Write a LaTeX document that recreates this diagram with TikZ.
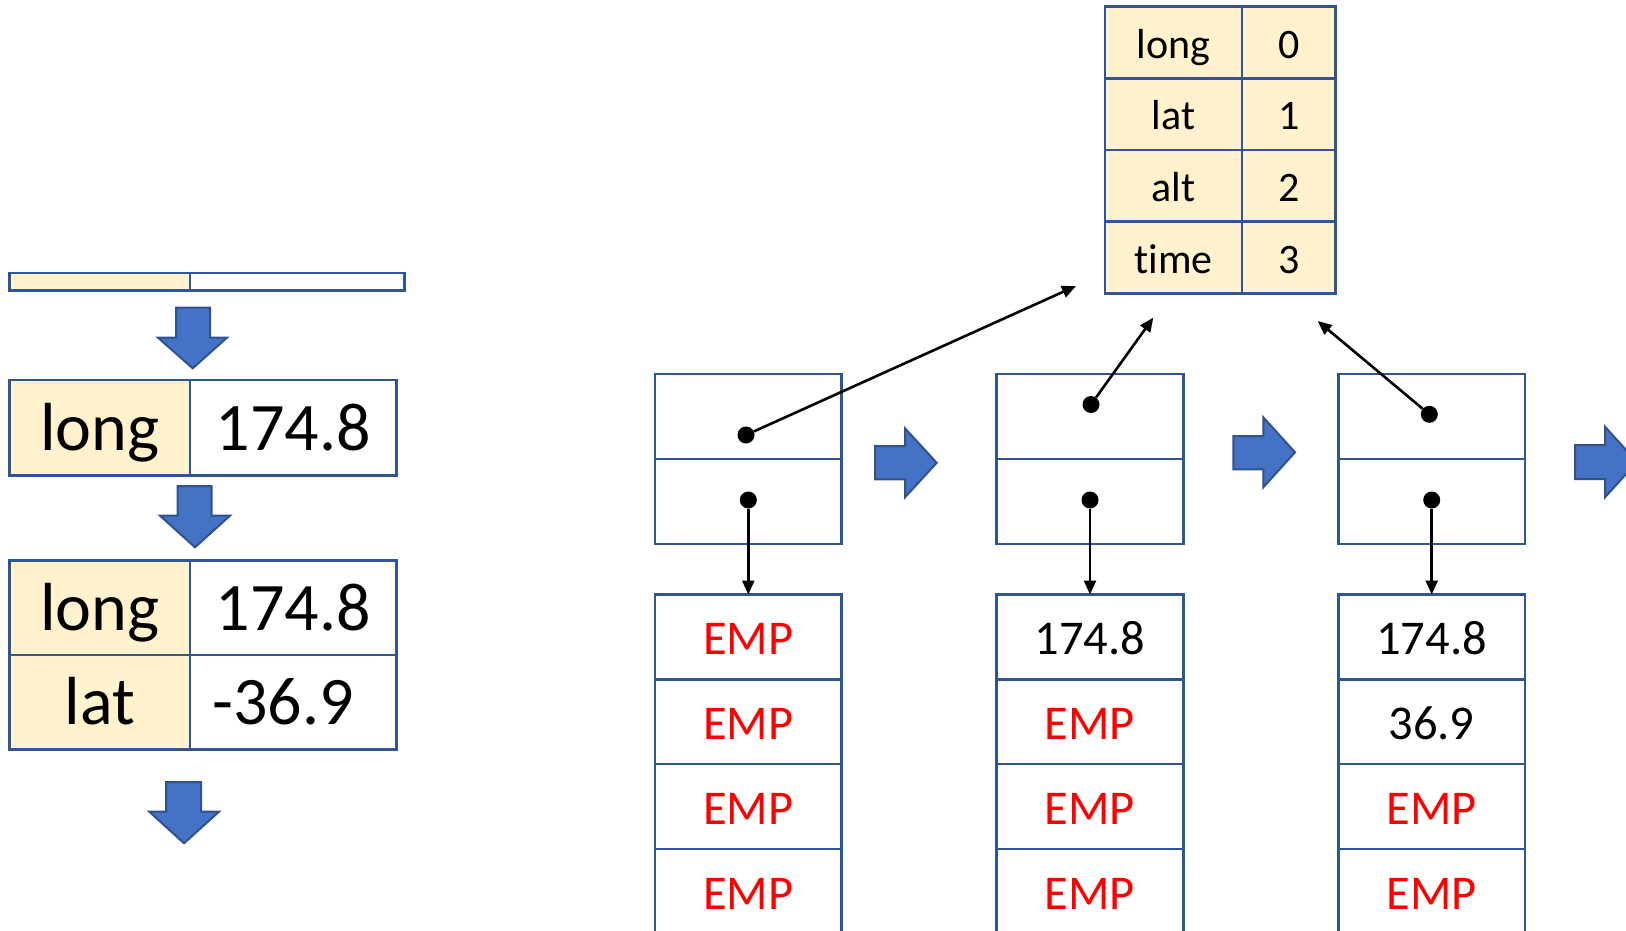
\documentclass[tikz,border=0pt]{standalone}
\usepackage{fontspec}
\setmainfont{Carlito}[Ligatures=NoCommon]
\usetikzlibrary{arrows.meta}

\definecolor{cellline}{HTML}{2F5597}
\definecolor{keyfill}{HTML}{FFF2CC}
\definecolor{arrowfill}{HTML}{4472C4}
\definecolor{arrowline}{HTML}{2F528F}
\definecolor{emptyred}{HTML}{FF0000}

\tikzset{
  cell/.style={draw=cellline, line width=2.6pt, inner sep=0pt, outer sep=0pt, anchor=north west},
  bigkey/.style={cell, fill=keyfill, minimum width=180.7pt, font=\fontsize{68}{80}\selectfont, text height=58pt, text depth=13pt},
  bigval/.style={cell, fill=white, minimum width=206.7pt, font=\fontsize{68}{80}\selectfont, text height=58pt, text depth=13pt},
  mapcell/.style={cell, fill=keyfill, minimum height=71.65pt, font=\fontsize{42}{50}\selectfont, text height=40pt, text depth=8.4pt},
  slotcell/.style={cell, fill=white, minimum width=186.5pt, minimum height=84.8pt, font=\fontsize{48.5}{56}\selectfont, text height=45pt, text depth=9.5pt},
  empslot/.style={slotcell, text=emptyred},
  ptrcell/.style={cell, fill=white, minimum width=186.5pt, minimum height=85pt},
  dot/.style={circle, fill=black, inner sep=0pt, minimum size=17pt},
  ptr/.style={line width=2.6pt, -{Triangle[length=14pt,width=12pt]}},
  blockarrow/.style={fill=arrowfill, draw=arrowline, line width=2pt, line join=miter},
}

\begin{document}
\begin{tikzpicture}[x=1pt, y=-1pt]
\useasboundingbox (0,0) rectangle (1626,931);
\clip (0,0) rectangle (1626,931);

% ---- left: growing record ----
\node[cell, fill=keyfill, minimum width=180.7pt, minimum height=17.7pt] (barkey) at (9.3,273) {};
\node[cell, fill=white, minimum width=214.5pt, minimum height=17.7pt] (barval) at (barkey.north east) {};

\path[blockarrow] (176,307.7) -- (210,307.7) -- (210,337.7) -- (227,337.7) -- (192.7,368.3) -- (158,337.7) -- (176,337.7) -- cycle;

\node[bigkey, minimum height=95.3pt] (ak) at (9.3,380) {long};
\node[bigval, minimum height=95.3pt] (av) at (ak.north east) {174.8};

\path[blockarrow] (177.7,486) -- (211.7,486) -- (211.7,515.7) -- (230,515.7) -- (195,547.3) -- (160,515.7) -- (177.7,515.7) -- cycle;

\node[bigkey, minimum height=94.3pt] (bk1) at (9.3,560.7) {long};
\node[bigval, minimum height=94.3pt] (bv1) at (bk1.north east) {174.8};
\node[bigkey, minimum height=94.3pt] (bk2) at (bk1.south west) {lat};
\node[bigval, minimum height=94.3pt] (bv2) at (bk2.north east) {-36.9\hspace*{20pt}};

\path[blockarrow] (166,782) -- (201,782) -- (201,811.7) -- (219,811.7) -- (184,843.3) -- (149.3,811.7) -- (166,811.7) -- cycle;

% ---- top: key -> index map ----
\node[mapcell, minimum width=137pt] (m1k) at (1105,6.7) {long};
\node[mapcell, minimum width=93.5pt] (m1v) at (m1k.north east) {0};
\node[mapcell, minimum width=137pt] (m2k) at (m1k.south west) {lat};
\node[mapcell, minimum width=93.5pt] (m2v) at (m2k.north east) {1};
\node[mapcell, minimum width=137pt] (m3k) at (m2k.south west) {alt};
\node[mapcell, minimum width=93.5pt] (m3v) at (m3k.north east) {2};
\node[mapcell, minimum width=137pt] (m4k) at (m3k.south west) {time};
\node[mapcell, minimum width=93.5pt] (m4v) at (m4k.north east) {3};

% ---- three stages of the record object ----
% stage 1
\node[ptrcell] (h1) at (655,374) {};
\node[ptrcell] (s1) at (h1.south west) {};
\node[empslot] (a1r1) at (655,594.5) {EMP};
\node[empslot] (a1r2) at (a1r1.south west) {EMP};
\node[empslot] (a1r3) at (a1r2.south west) {EMP};
\node[empslot] (a1r4) at (a1r3.south west) {EMP};

% stage 2
\node[ptrcell] (h2) at (996.7,374) {};
\node[ptrcell] (s2) at (h2.south west) {};
\node[slotcell] (a2r1) at (996.7,594.5) {174.8};
\node[empslot] (a2r2) at (a2r1.south west) {EMP};
\node[empslot] (a2r3) at (a2r2.south west) {EMP};
\node[empslot] (a2r4) at (a2r3.south west) {EMP};

% stage 3
\node[ptrcell] (h3) at (1338.3,374) {};
\node[ptrcell] (s3) at (h3.south west) {};
\node[slotcell] (a3r1) at (1338.3,594.5) {174.8};
\node[slotcell] (a3r2) at (a3r1.south west) {36.9};
\node[empslot] (a3r3) at (a3r2.south west) {EMP};
\node[empslot] (a3r4) at (a3r3.south west) {EMP};

% transition arrows
\path[blockarrow] (875,446) -- (905,446) -- (905,428.3) -- (936.7,462.8) -- (905,497.3) -- (905,479.3) -- (875,479.3) -- cycle;
\path[blockarrow] (1233.3,436) -- (1263.3,436) -- (1263.3,417.3) -- (1295,452.3) -- (1263.3,487.3) -- (1263.3,469.3) -- (1233.3,469.3) -- cycle;
\path[blockarrow] (1575,445) -- (1605,445) -- (1605,426.7) -- (1637,462) -- (1605,497.3) -- (1605,479) -- (1575,479) -- cycle;

% pointer dots
\node[dot] (d1t) at (746,435) {};
\node[dot] (d1b) at (748.3,500) {};
\node[dot] (d2t) at (1091,404.5) {};
\node[dot] (d2b) at (1090,500) {};
\node[dot] (d3t) at (1429.3,414.3) {};
\node[dot] (d3b) at (1431.7,500) {};

% free ends of the map pointers
\coordinate (t1) at (1076,286);
\coordinate (t2) at (1153.3,317.7);
\coordinate (t3) at (1317.7,321);

\draw[ptr] (d1t) -- (t1);
\draw[ptr] (d2t) -- (t2);
\draw[ptr] (d3t) -- (t3);

\draw[ptr] (d1b) -- (d1b |- a1r1.north);
\draw[ptr] (d2b) -- (d2b |- a2r1.north);
\draw[ptr] (d3b) -- (d3b |- a3r1.north);
\end{tikzpicture}
\end{document}
